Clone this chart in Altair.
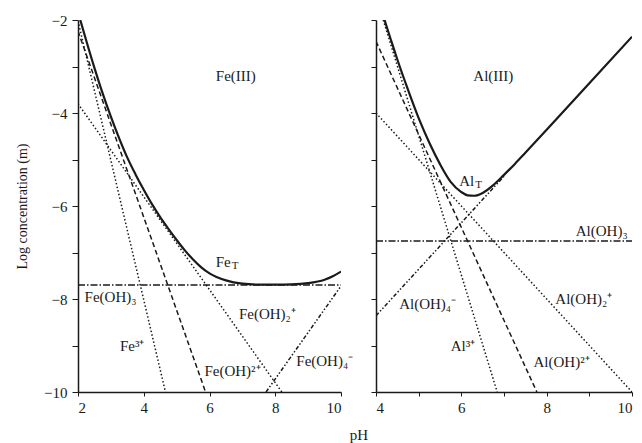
import altair as alt
import pandas as pd

FONT = "Liberation Serif"
INK = "#1a1a1a"

# ---------------- Fe(III) panel data ----------------
fe_series = ["Fe3+", "FeOH2+", "Fe(OH)2+", "Fe(OH)3", "Fe(OH)4-"]
fe_style = ["dot", "dash", "dot", "dashdot", "dashdotdot"]
fe_ph = [[2.0, 4.66], [2.0, 5.88], [2.0, 8.2], [2.0, 10.0], [7.72, 10.0]]
fe_log = [[-2.02, -10.0], [-2.24, -10.0], [-3.8, -10.0], [-7.7, -7.7], [-10.0, -7.72]]

fe_total_ph = [2.07, 2.25, 2.5, 2.75, 3.0, 3.25, 3.5, 3.75, 4.0, 4.25, 4.5, 4.75,
               5.0, 5.25, 5.5, 5.75, 6.0, 6.5, 7.0, 7.5, 8.0, 8.5, 9.0, 9.5, 9.75, 10.0]
fe_total_log = [-2.0, -2.44, -3.03, -3.58, -4.08, -4.54, -4.96, -5.32, -5.65, -5.96,
                -6.24, -6.49, -6.73, -6.955, -7.15, -7.32, -7.45, -7.60, -7.67, -7.69,
                -7.69, -7.686, -7.66, -7.585, -7.51, -7.41]

fe_labels = ["Fe(III)", "Fe(OH)₃", "Fe³⁺", "Fe(OH)²⁺", "Fe(OH)₂⁺", "Fe(OH)₄⁻", "Fe"]
fe_lab_x = [6.8, 2.2, 3.65, 6.7, 7.76, 8.64, 6.19]
fe_lab_y = [-3.2, -7.96, -9.0, -9.55, -8.32, -9.33, -7.2]
fe_lab_align = ["center", "left", "center", "center", "center", "left", "left"]

# ---------------- Al(III) panel data ----------------
al_series = ["Al3+", "AlOH2+", "Al(OH)2+", "Al(OH)3", "Al(OH)4-"]
al_style = ["dot", "dash", "dot", "dashdot", "dashdotdot"]
al_ph = [[4.17, 6.84], [4.0, 7.77], [4.0, 10.0], [4.0, 10.0], [4.0, 7.0]]
al_log = [[-2.0, -10.0], [-2.46, -10.0], [-4.0, -10.0], [-6.75, -6.75], [-8.36, -5.36]]

al_total_ph = [4.2, 4.35, 4.5, 4.75, 5.0, 5.25, 5.5, 5.75, 6.0, 6.15, 6.3, 6.5,
               6.75, 7.0, 7.25, 7.5, 8.0, 9.0, 10.0]
al_total_log = [-2.0, -2.43, -2.85, -3.50, -4.11, -4.64, -5.10, -5.48, -5.70, -5.77,
                -5.78, -5.72, -5.55, -5.33, -5.10, -4.855, -4.36, -3.36, -2.36]

al_labels = ["Al(III)", "Al(OH)₃", "Al(OH)₄⁻", "Al³⁺", "Al(OH)²⁺", "Al(OH)₂⁺", "Al"]
al_lab_x = [6.75, 9.29, 5.21, 6.04, 8.35, 8.87, 5.95]
al_lab_y = [-3.2, -6.54, -8.1, -9.0, -9.36, -8.0, -5.46]
al_lab_align = ["center", "center", "center", "center", "center", "center", "left"]

y_ticks = [-10, -9, -8, -7, -6, -5, -4, -3, -2]

style_domain = ["dot", "dash", "dashdot", "dashdotdot"]
style_dash = [[1.5, 2.2], [5, 3], [7, 2, 1.5, 2], [4, 2, 1.5, 2, 1.5, 2]]


def lines_df(series, styles, phs, logs):
    rows = []
    for s, st, xs, ys in zip(series, styles, phs, logs):
        for x, y in zip(xs, ys):
            rows.append({"series": s, "style": st, "ph": x, "logc": y})
    return pd.DataFrame(rows)


def panel(series, styles, phs, logs, tph, tlog, labs, lx, ly, la, xdom, width,
          show_y, sub_dx, sub_text):
    xs = alt.Scale(domain=xdom, nice=False, zero=False)
    ys = alt.Scale(domain=[-10, -2], nice=False, zero=False)
    xt = list(range(xdom[0], xdom[1] + 1))
    xaxis = alt.Axis(values=xt, labelExpr="datum.value % 2 == 0 ? datum.label : ''",
                     title=None, grid=False, tickSize=4, labelFont=FONT,
                     labelFontSize=15, labelColor=INK, domainColor=INK,
                     tickColor=INK, labelPadding=4, domainWidth=1.5)
    if show_y:
        yaxis = alt.Axis(values=y_ticks, format="d",
                         labelExpr="datum.value % 2 == 0 ? datum.label : ''",
                         title="Log concentration (m)", titleFont=FONT,
                         titleFontSize=14, titleFontWeight="normal", titleColor=INK,
                         grid=False, tickSize=6, labelFont=FONT, labelFontSize=15,
                         labelColor=INK, domainColor=INK, tickColor=INK,
                         labelPadding=5, titlePadding=14, domainWidth=1.5)
    else:
        yaxis = alt.Axis(values=y_ticks, labels=False, title=None, grid=False,
                         tickSize=5, domainColor=INK, tickColor=INK, domainWidth=1.5)

    ldf = lines_df(series, styles, phs, logs)
    base_lines = alt.Chart(ldf).mark_line(clip=True, color=INK, strokeWidth=1.5).encode(
        x=alt.X("ph:Q", scale=xs, axis=xaxis),
        y=alt.Y("logc:Q", scale=ys, axis=yaxis),
        detail="series:N",
        strokeDash=alt.StrokeDash("style:N", scale=alt.Scale(domain=style_domain,
                                                            range=style_dash),
                                  legend=None),
    )
    tdf = pd.DataFrame({"ph": tph, "logc": tlog})
    total = alt.Chart(tdf).mark_line(clip=True, color=INK, strokeWidth=2.2,
                                     interpolate="monotone").encode(
        x=alt.X("ph:Q", scale=xs), y=alt.Y("logc:Q", scale=ys))
    labdf = pd.DataFrame({"t": labs, "ph": lx, "logc": ly, "a": la})
    texts = []
    for a in ["left", "center"]:
        sub = labdf[labdf["a"] == a]
        texts.append(alt.Chart(sub).mark_text(align=a, baseline="middle", font=FONT,
                                              fontSize=15, color=INK).encode(
            x=alt.X("ph:Q", scale=xs), y=alt.Y("logc:Q", scale=ys), text="t:N"))
    # subscript T for the total label
    sdf = labdf[labdf["t"] == sub_text]
    subs = alt.Chart(sdf).mark_text(align="left", baseline="middle", font=FONT,
                                    fontSize=11, color=INK, dx=sub_dx, dy=4).encode(
        x=alt.X("ph:Q", scale=xs), y=alt.Y("logc:Q", scale=ys), text=alt.value("T"))
    return alt.layer(base_lines, total, *texts, subs).properties(width=width, height=372)


left = panel(fe_series, fe_style, fe_ph, fe_log, fe_total_ph, fe_total_log,
             fe_labels, fe_lab_x, fe_lab_y, fe_lab_align, [2, 10], 263, True, 16, "Fe")
right = panel(al_series, al_style, al_ph, al_log, al_total_ph, al_total_log,
              al_labels, al_lab_x, al_lab_y, al_lab_align, [4, 10], 256, False, 16, "Al")

chart = alt.hconcat(left, right, spacing=16).properties(
    title=alt.TitleParams("pH", orient="bottom", anchor="middle", font=FONT,
                          fontSize=15, fontWeight="normal", color=INK, offset=13, dx=35),
    padding={"left": 7, "top": 5, "right": 0, "bottom": 0},
).configure_view(stroke=None)

chart.save("out.html", embed_options={"renderer": "svg", "actions": False})
